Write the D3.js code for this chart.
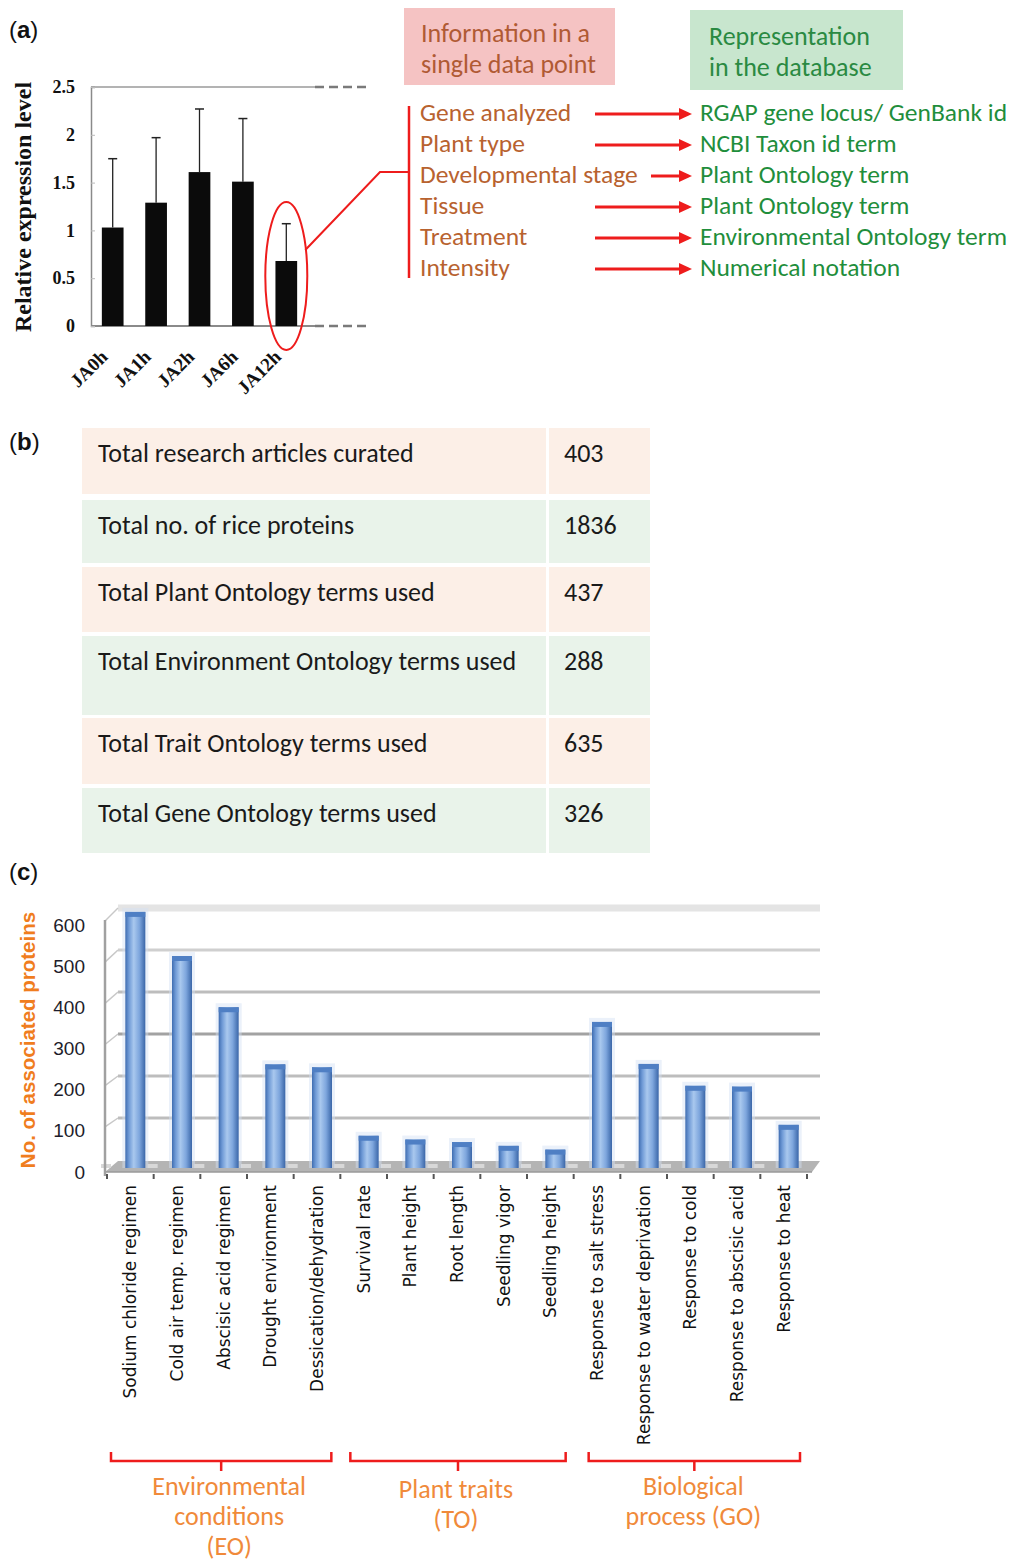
<!DOCTYPE html>
<html><head><meta charset="utf-8">
<script src="https://cdn.jsdelivr.net/npm/d3@7"></script>
<style>
html,body{margin:0;padding:0;background:#fff;}
svg{display:block;}
</style></head>
<body>
<svg id="chart" width="1017" height="1564"></svg>
<script>
// ---------- DATA ----------
const aCategories = ["JA0h","JA1h","JA2h","JA6h","JA12h"];
const aValues = [1.03,1.29,1.61,1.51,0.68];
const aErrors = [0.72,0.68,0.66,0.66,0.39];
const aYTicks = [0,0.5,1,1.5,2,2.5];
const aYLabel = "Relative expression level";

const infoHeader = ["Information in a","single data point"];
const dbHeader = ["Representation","in the database"];
const infoItems = ["Gene analyzed","Plant type","Developmental stage","Tissue","Treatment","Intensity"];
const dbItems = ["RGAP gene locus/ GenBank id","NCBI Taxon id term","Plant Ontology term","Plant Ontology term","Environmental Ontology term","Numerical notation"];

const tableLabels = ["Total research articles curated","Total no. of rice proteins","Total Plant Ontology terms used","Total Environment Ontology terms used","Total Trait Ontology terms used","Total Gene Ontology terms used"];
const tableValues = ["403","1836","437","288","635","326"];

const cCategories = ["Sodium chloride regimen","Cold air temp. regimen","Abscisic acid regimen","Drought environment","Dessication/dehydration","Survival rate","Plant height","Root length","Seedling vigor","Seedling height","Response to salt stress","Response to water deprivation","Response to cold","Response to abscisic acid","Response to heat"];
const cValues = [605,500,378,242,235,72,63,57,48,39,343,243,191,189,98];
const cYTicks = [0,100,200,300,400,500,600];
const cYLabel = "No. of associated proteins";
const cGroupNames = [["Environmental","conditions","(EO)"],["Plant traits","(TO)"],["Biological","process (GO)"]];
const cGroupStart = [0,5,10];
const cGroupEnd = [4,9,14];

// ---------- SETUP ----------
const svg = d3.select("#chart");
const CAL = "Carlito, Calibri, Lato, sans-serif";
const RED = "#ee1c1c";

function panelLetter(ch, x, y){
  const t = svg.append("text").attr("x",x).attr("y",y)
    .attr("font-family","Arial, 'Liberation Sans', sans-serif").attr("font-size",24).attr("fill","#111");
  t.append("tspan").text("(");
  t.append("tspan").attr("font-weight","bold").text(ch);
  t.append("tspan").text(")");
}
panelLetter("a",9,38);
panelLetter("b",9,450);
panelLetter("c",9,880);

// ---------- PANEL A ----------
const ya = d3.scaleLinear().domain([0,2.5]).range([326,87]);
const xa = d3.scaleBand().domain(aCategories).range([91,308]).paddingInner(0.5).paddingOuter(0.25);
const gA = svg.append("g");

gA.append("line").attr("x1",91).attr("x2",315).attr("y1",87).attr("y2",87).attr("stroke","#9a9a9a").attr("stroke-width",1.5);
gA.append("line").attr("x1",91).attr("x2",315).attr("y1",326).attr("y2",326).attr("stroke","#8a8a8a").attr("stroke-width",1.8);
[87,326].forEach(y=>{
  gA.append("line").attr("x1",315).attr("x2",367).attr("y1",y).attr("y2",y)
    .attr("stroke","#7a7a7a").attr("stroke-width",2.5).attr("stroke-dasharray","9,5");
});
const axA = gA.append("g").attr("transform","translate(91,0)")
  .call(d3.axisLeft(ya).tickValues(aYTicks).tickSize(-4).tickPadding(16).tickFormat(d=>String(d)));
axA.select(".domain").attr("stroke","#8a8a8a").attr("stroke-width",1.5);
axA.selectAll(".tick line").attr("stroke","#bbb");
axA.selectAll(".tick text").attr("font-family","'Liberation Serif', 'Times New Roman', serif")
  .attr("font-weight","bold").attr("font-size",18).attr("fill","#111").attr("text-anchor","end");

gA.selectAll("rect.ba").data(aCategories).enter().append("rect")
  .attr("x",d=>xa(d)).attr("width",xa.bandwidth())
  .attr("y",(d,i)=>ya(aValues[i])).attr("height",(d,i)=>ya(0)-ya(aValues[i]))
  .attr("fill","#0b0b0b");
aCategories.forEach((c,i)=>{
  const cx = xa(c)+xa.bandwidth()/2;
  gA.append("line").attr("x1",cx).attr("x2",cx).attr("y1",ya(aValues[i])).attr("y2",ya(aValues[i]+aErrors[i]))
    .attr("stroke","#222").attr("stroke-width",1.3);
  gA.append("line").attr("x1",cx-4.5).attr("x2",cx+4.5).attr("y1",ya(aValues[i]+aErrors[i])).attr("y2",ya(aValues[i]+aErrors[i]))
    .attr("stroke","#222").attr("stroke-width",1.5);
});
aCategories.forEach(c=>{
  const cx = xa(c)+xa.bandwidth()/2;
  gA.append("text").attr("transform",`translate(${cx-4},${358}) rotate(-45)`)
    .attr("text-anchor","end").attr("font-family","'Liberation Serif', 'Times New Roman', serif")
    .attr("font-weight","bold").attr("font-size",19).attr("fill","#111").text(c);
});
gA.append("text").attr("transform","translate(31,207) rotate(-90)").attr("text-anchor","middle")
  .attr("font-family","'Liberation Serif', 'Times New Roman', serif").attr("font-weight","bold")
  .attr("font-size",24).attr("fill","#111").text(aYLabel);

const lastC = aCategories[aCategories.length-1];
const ecx = xa(lastC)+xa.bandwidth()/2;
gA.append("ellipse").attr("cx",ecx).attr("cy",276).attr("rx",21).attr("ry",74)
  .attr("fill","none").attr("stroke",RED).attr("stroke-width",2);
gA.append("polyline").attr("points",`${ecx+19},250 380,172 409,172`).attr("fill","none").attr("stroke",RED).attr("stroke-width",2);
gA.append("line").attr("x1",409).attr("x2",409).attr("y1",106).attr("y2",278).attr("stroke",RED).attr("stroke-width",2.5);

gA.append("rect").attr("x",404).attr("y",8).attr("width",211).attr("height",77).attr("fill","#f5c3c3");
gA.append("rect").attr("x",690).attr("y",10).attr("width",213).attr("height",80).attr("fill","#c8e6ce");
infoHeader.forEach((t,i)=>{
  gA.append("text").attr("x",421).attr("y",42+i*31).attr("font-family",CAL).attr("font-size",26)
    .attr("fill","#b05a34").text(t);
});
dbHeader.forEach((t,i)=>{
  gA.append("text").attr("x",709).attr("y",45+i*31).attr("font-family",CAL).attr("font-size",26)
    .attr("fill","#2a8a42").text(t);
});
const rowY = d3.scaleLinear().domain([0,5]).range([113,268]);
infoItems.forEach((t,i)=>{
  const y = rowY(i);
  gA.append("text").attr("x",420).attr("y",y+8).attr("font-family",CAL).attr("font-size",25.5)
    .attr("fill","#b8622f").text(t);
  const x0 = t==="Developmental stage" ? 651 : 595;
  gA.append("line").attr("x1",x0).attr("x2",680).attr("y1",y+1).attr("y2",y+1).attr("stroke",RED).attr("stroke-width",3);
  gA.append("path").attr("d",`M679,${y-5} L692,${y+1} L679,${y+7} Z`).attr("fill",RED);
  gA.append("text").attr("x",700).attr("y",y+8).attr("font-family",CAL).attr("font-size",25.5)
    .attr("fill","#1f8e3c").text(dbItems[i]);
});

// ---------- PANEL B ----------
const rowTops = [428,500,567,636,718,788];
const rowBottoms = [494,563,632,715,784,853];
const gB = svg.append("g");
tableLabels.forEach((t,i)=>{
  const fill = i%2===0 ? "#fcefe7" : "#e9f3ea";
  gB.append("rect").attr("x",82).attr("y",rowTops[i]).attr("width",464).attr("height",rowBottoms[i]-rowTops[i]).attr("fill",fill);
  gB.append("rect").attr("x",549).attr("y",rowTops[i]).attr("width",101).attr("height",rowBottoms[i]-rowTops[i]).attr("fill",fill);
  gB.append("text").attr("x",98).attr("y",rowTops[i]+34).attr("font-family",CAL).attr("font-size",26)
    .attr("fill","#1a1a1a").text(t);
  gB.append("text").attr("x",564).attr("y",rowTops[i]+34).attr("font-family",CAL).attr("font-size",26)
    .attr("fill","#1a1a1a").text(tableValues[i]);
});

// ---------- PANEL C ----------
const gC = svg.append("g");
const xc = d3.scaleBand().domain(cCategories).range([107,807]).padding(0);
const yBar = d3.scaleLinear().domain([0,600]).range([1166,914]);
const yFront = d3.scaleLinear().domain([0,600]).range([1172,925]);
const yBack = d3.scaleLinear().domain([0,600]).range([1160,908]);
const backX0 = 118, backX1 = 820;

cYTicks.forEach(v=>{
  if(v===0) return;
  const top = v===600;
  gC.append("line").attr("x1",backX0).attr("x2",backX1).attr("y1",yBack(v)).attr("y2",yBack(v))
    .attr("stroke", top ? "#e4e4e4" : (v===300 ? "#a2a2a2" : (v===500 ? "#cfcfcf" : "#bdbdbd")))
    .attr("stroke-width", top ? 7 : 3);
  gC.append("line").attr("x1",105).attr("x2",backX0).attr("y1",yFront(v)-4).attr("y2",yBack(v))
    .attr("stroke","#c8c8c8").attr("stroke-width",1.5);
});
gC.append("polygon").attr("points",`105,1172 812,1172 820,1161 118,1161`).attr("fill","#b4b4b4");
gC.append("line").attr("x1",105).attr("x2",812).attr("y1",1172).attr("y2",1172).attr("stroke","#9a9a9a").attr("stroke-width",1.5);
cCategories.forEach(c=>{
  gC.append("rect").attr("x",xc(c)-6).attr("y",1164).attr("width",10).attr("height",4).attr("fill","#d8d8d8");
});
gC.append("line").attr("x1",105).attr("x2",105).attr("y1",920).attr("y2",1176).attr("stroke","#a0a0a0").attr("stroke-width",2.5);
d3.range(cCategories.length+1).forEach(i=>{
  const x = 107 + i*xc.step();
  gC.append("line").attr("x1",x).attr("x2",x).attr("y1",1174).attr("y2",1179).attr("stroke","#555").attr("stroke-width",2);
});
const axC = gC.append("g").attr("transform","translate(85,0)")
  .call(d3.axisLeft(yFront).tickValues(cYTicks).tickSize(0).tickPadding(0));
axC.select(".domain").remove();
axC.selectAll(".tick text").attr("font-family","Arial, 'Liberation Sans', sans-serif")
  .attr("font-size",19).attr("fill","#1d1d2b");

const defs = svg.append("defs");
const grad = defs.append("linearGradient").attr("id","barGrad").attr("x1","0").attr("x2","1").attr("y1","0").attr("y2","0");
[[0,"#3f6db1"],[0.18,"#6f9ad6"],[0.42,"#a9c8ee"],[0.7,"#7ea6dd"],[1,"#3a66a8"]].forEach(s=>{
  grad.append("stop").attr("offset",s[0]).attr("stop-color",s[1]);
});
const bw = 20;
cCategories.forEach((c,i)=>{
  const cx = xc(c)+xc.bandwidth()/2+5;
  const top = yBar(cValues[i]);
  gC.append("rect").attr("x",cx-bw/2-3).attr("y",top-4).attr("width",bw+6).attr("height",1168-top+4)
    .attr("fill","#d3e1f4").attr("opacity",0.45);
  gC.append("rect").attr("x",cx-bw/2).attr("y",top).attr("width",bw).attr("height",1168-top)
    .attr("fill","url(#barGrad)");
  gC.append("rect").attr("x",cx-bw/2).attr("y",top).attr("width",bw).attr("height",5)
    .attr("fill","#4f7fc4");
});
cCategories.forEach(c=>{
  const cx = xc(c)+xc.bandwidth()/2;
  gC.append("text").attr("transform",`translate(${cx+6},1185) rotate(-90)`).attr("text-anchor","end")
    .attr("font-family","'DejaVu Sans', Verdana, sans-serif").attr("font-size",17).attr("fill","#111").text(c);
});
gC.append("text").attr("transform","translate(35,1040) rotate(-90)").attr("text-anchor","middle")
  .attr("font-family","Arial, 'Liberation Sans', sans-serif").attr("font-weight","bold")
  .attr("font-size",20.5).attr("fill","#f07d1e").text(cYLabel);

cGroupNames.forEach((names,g)=>{
  const x0 = xc(cCategories[cGroupStart[g]]) + [4,10,15][g];
  const x1 = xc(cCategories[cGroupEnd[g]]) + xc.bandwidth() - [9,8,7][g];
  const xm = (x0+x1)/2;
  gC.append("path").attr("d",`M${x0},1452 L${x0},1461 L${x1},1461 L${x1},1452 M${xm},1461 L${xm},1471`)
    .attr("fill","none").attr("stroke",RED).attr("stroke-width",2.5);
  const tx = xm + [8,-2,-1][g];
  names.forEach((n,k)=>{
    gC.append("text").attr("x",tx).attr("y",1495+k*30+(g===1?3:0)).attr("text-anchor","middle")
      .attr("font-family",CAL).attr("font-size",26).attr("fill","#f08a3a").text(n);
  });
});
</script>
</body></html>
